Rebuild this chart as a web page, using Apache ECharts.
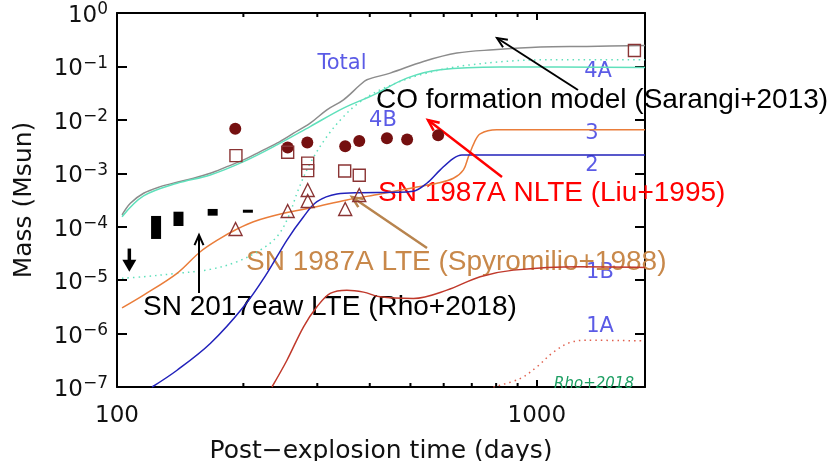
<!DOCTYPE html>
<html><head><meta charset="utf-8">
<script src="https://cdn.jsdelivr.net/npm/echarts@6/dist/echarts.min.js"></script>
<style>html,body{margin:0;padding:0;background:#fff}#c{width:829px;height:461px}</style>
</head><body><div id="c"></div><script>
// ---- data (days, Msun) ----
const totalCurve = [[102.8,1.66e-4],[107.6,2.75e-4],[115.7,4.23e-4],[126.8,5.62e-4],[139,6.8e-4],[152.2,8.07e-4],[166.8,1.0e-3],[182.7,1.33e-3],[200.2,1.78e-3],[219.4,2.55e-3],[240.4,3.66e-3],[263.4,5.63e-3],[288.5,8.67e-3],[316.2,1.54e-2],[346.3,2.37e-2],[379.6,4.53e-2],[393.8,5.62e-2],[447.4,7.5e-2],[537,0.124],[645,0.178],[788,0.205],[1018,0.231],[1315,0.237],[1810,0.247]];
const curve4A = [[102.8,1.54e-4],[115.7,3.76e-4],[139,6.5e-4],[166.8,9.3e-4],[200.2,1.65e-3],[240.4,3.4e-3],[288.5,7.5e-3],[346.3,1.66e-2],[408.6,2.94e-2],[490.3,6.05e-2],[588.8,8.66e-2],[817.6,9.8e-2],[1810,9.6e-2]];
const curve4B = [[102.8,1.08e-5],[115.7,1.16e-5],[139,1.34e-5],[166.8,1.59e-5],[193.1,2.21e-5],[219.4,3.66e-5],[240.4,6.5e-5],[255.7,1.5e-4],[270.2,4.87e-4],[288.5,1.54e-3],[316.2,4.87e-3],[346.3,1.15e-2],[376,2.06e-2],[423.7,3.65e-2],[527.5,6.97e-2],[693.7,0.107],[1056,0.133],[1810,0.133]];
const curve3 = [[102.8,3.03e-6],[115.7,5.25e-6],[139,1.34e-5],[157.9,3.4e-5],[176.2,6.06e-5],[191.3,8.67e-5],[211.4,1.24e-4],[249.3,1.78e-4],[293.9,2.31e-4],[352.8,3.17e-4],[423.7,4.1e-4],[508.4,5.38e-4],[578.1,6.5e-4],[633,8.07e-4],[668.7,1.16e-3],[687.3,2.05e-3],[710,3.8e-3],[732.8,5.47e-3],[803,6.5e-3],[1810,6.5e-3]];
const curve2 = [[121.2,1e-7],[139,2.06e-7],[166.8,6.52e-7],[200.2,3.17e-6],[227.6,1.34e-5],[254,5.63e-5],[278.2,1.54e-4],[299.4,2.94e-4],[334.1,4.1e-4],[379.6,4.34e-4],[460,4.4e-4],[508,4.6e-4],[547,6.5e-4],[588.8,1.16e-3],[633,1.91e-3],[663,2.21e-3],[1810,2.21e-3]];
const curve1B = [[233.9,1e-7],[254,3.17e-7],[278.2,1.34e-6],[299.4,3.17e-6],[322,5.65e-6],[352.8,6.5e-6],[386.6,5.97e-6],[423.7,4.87e-6],[508.4,4.55e-6],[610.6,6.5e-6],[732.8,1.16e-5],[879.7,1.54e-5],[1268,1.78e-5],[1810,1.73e-5]];
const curve1A = [[788,1e-7],[912.7,1.44e-7],[1000,2.38e-7],[1095,4.48e-7],[1200,6.81e-7],[1315,7.5e-7],[1810,7.3e-7]];
const liuNLTE = [[191.3,6.8e-3],[255,3.03e-3],[284,3.76e-3],[349.6,3.2e-3],[377.6,4.04e-3],[439.5,4.54e-3],[491,4.27e-3],[582,5.16e-3]];
const squarePts = [[192,2.14e-3],[255,2.48e-3],[284.6,1.55e-3],[284.6,1.12e-3],[348.6,1.1e-3],[377.6,9.2e-4],[1708,0.199]];
const spyroLTE = [[191.6,9.06e-5],[255,1.97e-4],[284.6,4.87e-4],[284.6,3.03e-4],[349.6,2.15e-4],[377.6,3.93e-4]];
const rhoRanges = [[123.9,5.9e-5,1.59e-4],[140.1,1.03e-4,1.91e-4],[169,1.61e-4,2.15e-4],[205,1.86e-4,2.08e-4]];
const rhoUpperLimit = [[107,3.9e-5,1.44e-5]];
const xMinorTicks = [200,300,400,500,600,700,800,900];
const X_MIN = 100, X_MAX = 1810, Y_MIN = 1e-7, Y_MAX = 1;

const chart = echarts.init(document.getElementById('c'));
const AX = 'DejaVu Sans', AN = 'Liberation Sans';
const LBL = '#5b5be6';

function arrow(x1,y1,x2,y2,color,w,L){
  const a = Math.atan2(y2-y1,x2-x1), s = 0.42;
  return [
    {type:'line',z:5,shape:{x1,y1,x2,y2},style:{stroke:color,lineWidth:w}},
    {type:'polyline',z:5,shape:{points:[[x2-L*Math.cos(a-s),y2-L*Math.sin(a-s)],[x2,y2],[x2-L*Math.cos(a+s),y2-L*Math.sin(a+s)]]},style:{stroke:color,lineWidth:w,fill:null}}
  ];
}
function txt(x,y,text,size,color,font,extra){
  return Object.assign({type:'text',z:1,x,y,style:{text,fontSize:size,fill:color,fontFamily:font,textVerticalAlign:'middle',textAlign:'left'}},extra||{});
}
function ctxt(x,y,text,size,color,font,style){
  return {type:'text',z:1,x,y,style:Object.assign({text,fontSize:size,fill:color,fontFamily:font,textVerticalAlign:'middle',textAlign:'center'},style||{})};
}
function isDecade(v){const l=Math.log10(v);return Math.abs(l-Math.round(l))<1e-6;}

const line = (name,data,color,dotted)=>({
  type:'line',name,data,showSymbol:false,smooth:0.35,z:2,
  lineStyle:{color,width:1.5,type:dotted?[1.5,4]:'solid'},silent:true
});
const openMark = {color:'rgba(0,0,0,0)',borderColor:'#8a3434',borderWidth:1.4,opacity:1};

const option = {
  animation:false,
  grid:{left:117,right:184,top:13,bottom:74,outerBoundsMode:'none'},
  xAxis:[
    {type:'log',logBase:10,min:X_MIN,max:X_MAX,position:'bottom',
     axisLine:{lineStyle:{color:'#000',width:2}},
     axisTick:{inside:true,length:7,lineStyle:{color:'#000',width:2}},
     axisLabel:{formatter:v=>isDecade(v)?String(Math.round(v)):'',fontFamily:AX,fontSize:23,color:'#111',margin:18},
     splitLine:{show:false},
     name:'Post\u2212explosion time (days)',nameLocation:'middle',nameGap:52,
     nameTextStyle:{fontFamily:AX,fontSize:25,color:'#111'}},
    {type:'log',logBase:10,min:X_MIN,max:X_MAX,position:'top',
     axisLine:{lineStyle:{color:'#000',width:2}},
     axisTick:{inside:true,length:7,lineStyle:{color:'#000',width:2}},
     axisLabel:{show:false},splitLine:{show:false}}
  ],
  yAxis:[
    {type:'log',logBase:10,min:Y_MIN,max:Y_MAX,position:'left',
     axisLine:{lineStyle:{color:'#000',width:2}},
     axisTick:{inside:true,length:10,lineStyle:{color:'#000',width:2}},
     axisLabel:{margin:9,formatter:v=>{const e=Math.round(Math.log10(v));return '{b|10}{s|'+(e<0?'\u2212'+(-e):e)+'}';},
       rich:{b:{fontFamily:AX,fontSize:23,color:'#111',lineHeight:23,padding:[6,0,0,0]},
             s:{fontFamily:AX,fontSize:17,color:'#111',lineHeight:17,verticalAlign:'top'}}},
     splitLine:{show:false},
     name:'Mass (Msun)',nameLocation:'middle',nameGap:80,
     nameTextStyle:{fontFamily:AX,fontSize:25,color:'#111'}},
    {type:'log',logBase:10,min:Y_MIN,max:Y_MAX,position:'right',
     axisLine:{lineStyle:{color:'#000',width:2}},
     axisTick:{inside:true,length:10,lineStyle:{color:'#000',width:2}},
     axisLabel:{show:false},splitLine:{show:false}}
  ],
  series:[
    line('Total',totalCurve,'#8c8c8c'),
    line('4A',curve4A,'#5fe0bb'),
    line('4B',curve4B,'#5fe0bb',true),
    line('3',curve3,'#ea7d3a'),
    line('2',curve2,'#2222bb'),
    line('1B',curve1B,'#c0392b'),
    line('1A',curve1A,'#e0604e',true),
    {type:'custom',name:'minorTicks',silent:true,z:4,clip:false,
     data:xMinorTicks.map(v=>[v,Y_MIN]),
     renderItem:(p,api)=>{
       const b=api.coord([api.value(0),Y_MIN]), t=api.coord([api.value(0),Y_MAX]);
       return {type:'group',children:[
         {type:'line',shape:{x1:b[0],y1:b[1],x2:b[0],y2:b[1]-4},style:{stroke:'#000',lineWidth:2}},
         {type:'line',shape:{x1:t[0],y1:t[1],x2:t[0],y2:t[1]+4},style:{stroke:'#000',lineWidth:2}}]};
     }},
    {type:'custom',name:'Rho+2018',silent:true,z:3,
     data:rhoRanges,encode:{x:0,y:[1,2]},
     renderItem:(p,api)=>{
       const lo=api.coord([api.value(0),api.value(1)]), hi=api.coord([api.value(0),api.value(2)]);
       return {type:'rect',shape:{x:lo[0]-5,y:hi[1],width:10,height:Math.max(lo[1]-hi[1],3)},style:{fill:'#000'}};
     }},
    {type:'custom',name:'Rho limit',silent:true,z:3,
     data:rhoUpperLimit,encode:{x:0,y:[1,2]},
     renderItem:(p,api)=>{
       const a=api.coord([api.value(0),api.value(1)]), b=api.coord([api.value(0),api.value(2)]);
       return {type:'group',children:[
         {type:'line',shape:{x1:a[0],y1:a[1],x2:b[0],y2:b[1]-8},style:{stroke:'#000',lineWidth:3.5}},
         {type:'polygon',shape:{points:[[b[0]-7,b[1]-12],[b[0]+7,b[1]-12],[b[0],b[1]]]},style:{fill:'#000'}}]};
     }},
    {type:'scatter',name:'Liu',data:liuNLTE,symbol:'circle',symbolSize:12,z:6,silent:true,
     itemStyle:{color:'#751010',opacity:1}},
    {type:'scatter',name:'squares',data:squarePts,symbol:'rect',symbolSize:12,z:6,silent:true,
     itemStyle:openMark},
    {type:'scatter',name:'Spyromilio',data:spyroLTE,symbol:'triangle',symbolSize:13,z:6,silent:true,
     itemStyle:openMark}
  ],
  graphic:[
    ctxt(342,64,'Total',21,LBL,AX),
    ctxt(598,72,'4A',21,LBL,AX),
    ctxt(383,121,'4B',21,LBL,AX),
    ctxt(592,134,'3',21,LBL,AX),
    ctxt(592,166,'2',21,LBL,AX),
    ctxt(600,273,'1B',21,LBL,AX),
    ctxt(600,327,'1A',21,LBL,AX),
    ctxt(594,384,'Rho+2018',15,'#1c9e62',AX,{fontStyle:'italic'}),
    txt(376,100,'CO formation model (Sarangi+2013)',28,'#000',AN),
    txt(378,193,'SN 1987A NLTE (Liu+1995)',28,'#ff0000',AN),
    txt(246,262,'SN 1987A LTE (Spyromilio+1988)',28,'#c8884a',AN),
    txt(143,307,'SN 2017eaw LTE (Rho+2018)',28,'#000',AN),
    ...arrow(578,90,497,38,'#000',2,11),
    ...arrow(502,177,428,120,'#ff0000',2.5,12),
    ...arrow(427,248,352,197,'#b8844e',2.5,12),
    ...arrow(199,293,199,235,'#000',2,11)
  ]
};
chart.setOption(option);
</script></body></html>
